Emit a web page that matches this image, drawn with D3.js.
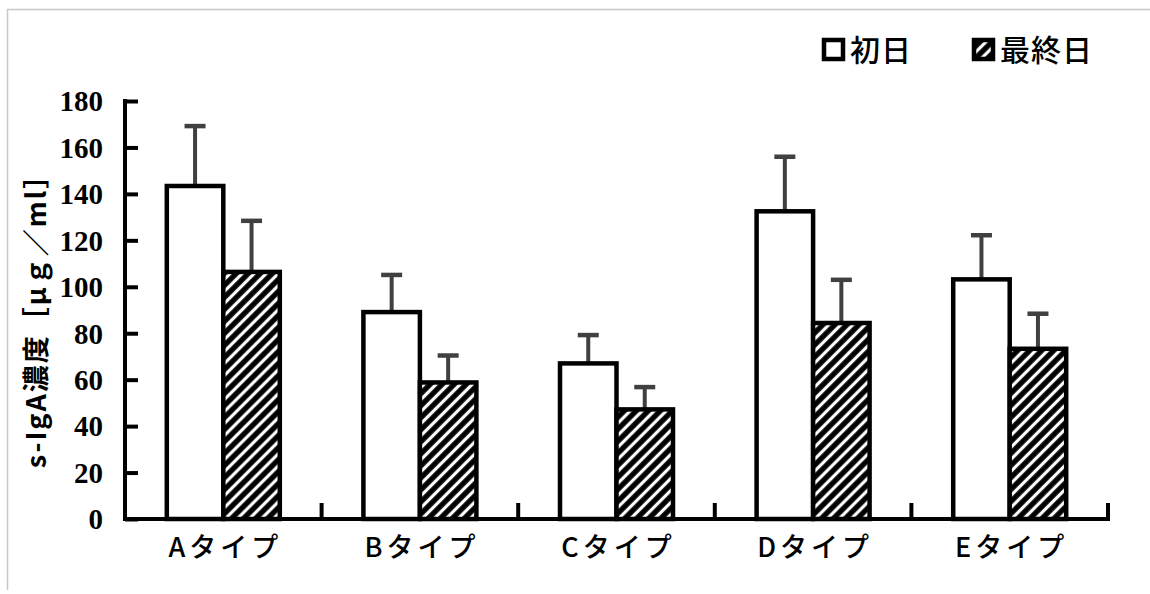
<!DOCTYPE html>
<html>
<head>
<meta charset="utf-8">
<script src="https://cdn.jsdelivr.net/npm/d3@7"></script>
<style>
  html, body { margin: 0; padding: 0; background: #fff; }
  svg { display: block; }
</style>
</head>
<body>
<svg id="chart" width="1150" height="594"></svg>
<script>
// s-IgA concentration by type, first day vs. last day (mean + SD)
const categories = ["Aタイプ", "Bタイプ", "Cタイプ", "Dタイプ", "Eタイプ"];
const seriesNames = ["初日", "最終日"];
const firstDay = [143.4, 89.1, 67.0, 132.5, 103.2];
const lastDay = [106.4, 58.8, 47.2, 84.4, 73.3];
const firstDaySD = [25.8, 16.0, 12.2, 23.5, 19.0];
const lastDaySD = [22.0, 11.6, 9.6, 18.6, 15.1];
const yTicks = [0, 20, 40, 60, 80, 100, 120, 140, 160, 180];
const yLabel = "s-IgA濃度［μｇ／ml］";

const svg = d3.select("#chart");
const numFont = "'Liberation Serif', 'DejaVu Serif', serif";
const jpFont = "'Noto Sans CJK JP', sans-serif";

// chart area border (top and left edges visible)
svg.append("path")
  .attr("d", "M7.5,590 L7.5,9.5 L1150,9.5")
  .attr("fill", "none")
  .attr("stroke", "#c8c8c8")
  .attr("stroke-width", 1.5);

// hatch pattern: black with white diagonal stripes
const defs = svg.append("defs");
const pat = defs.append("pattern")
  .attr("id", "hatch")
  .attr("patternUnits", "userSpaceOnUse")
  .attr("width", 8.5)
  .attr("height", 8.5)
  .attr("patternTransform", "rotate(45)");
pat.append("rect").attr("width", 8.5).attr("height", 8.5).attr("fill", "#000");
pat.append("line")
  .attr("x1", 4.25).attr("y1", 0).attr("x2", 4.25).attr("y2", 8.5)
  .attr("stroke", "#fff").attr("stroke-width", 3.2);

const plot = { left: 125, right: 1108, top: 101, bottom: 519 };

const x = d3.scaleBand()
  .domain(categories)
  .range([plot.left, plot.right])
  .paddingInner(0).paddingOuter(0);

const xSeries = d3.scaleBand()
  .domain(seriesNames)
  .range([0, x.bandwidth()])
  .paddingInner(0).paddingOuter(0.74);

const y = d3.scaleLinear().domain([0, 180]).range([plot.bottom, plot.top]);

const data = categories.map((c, i) => ({
  cat: c,
  vals: [
    { s: seriesNames[0], v: firstDay[i], sd: firstDaySD[i] },
    { s: seriesNames[1], v: lastDay[i], sd: lastDaySD[i] }
  ]
}));

// error bars (upper only), drawn beneath bars
const eb = svg.append("g");
data.forEach(d => {
  d.vals.forEach(p => {
    const cx = x(d.cat) + xSeries(p.s) + xSeries.bandwidth() / 2;
    eb.append("line")
      .attr("x1", cx).attr("x2", cx)
      .attr("y1", y(p.v)).attr("y2", y(p.v + p.sd))
      .attr("stroke", "#404040").attr("stroke-width", 4);
    eb.append("line")
      .attr("x1", cx - 10.5).attr("x2", cx + 10.5)
      .attr("y1", y(p.v + p.sd)).attr("y2", y(p.v + p.sd))
      .attr("stroke", "#404040").attr("stroke-width", 4.5);
  });
});

// bars
const groups = svg.append("g").selectAll("g")
  .data(data).join("g")
  .attr("transform", d => `translate(${x(d.cat)},0)`);

groups.selectAll("rect")
  .data(d => d.vals).join("rect")
  .attr("x", p => xSeries(p.s))
  .attr("y", p => y(p.v))
  .attr("width", xSeries.bandwidth())
  .attr("height", p => y(0) - y(p.v))
  .attr("fill", p => p.s === seriesNames[0] ? "#fff" : "url(#hatch)")
  .attr("stroke", "#000")
  .attr("stroke-width", 4.5);

// y axis
const yAxis = d3.axisLeft(y).tickValues(yTicks).tickSize(-13).tickPadding(22);
const gy = svg.append("g")
  .attr("transform", `translate(${plot.left},0)`)
  .call(yAxis);
gy.select(".domain").attr("stroke", "#000").attr("stroke-width", 4)
  .attr("d", `M0,${plot.bottom + 2}V${plot.top - 2}`);
gy.selectAll(".tick line").attr("stroke", "#000").attr("stroke-width", 4);
gy.selectAll(".tick text")
  .attr("font-family", numFont)
  .attr("font-weight", "bold")
  .attr("font-size", 29)
  .attr("fill", "#000")
  .attr("dy", "0.34em")
  .attr("x", -22);

// x axis
const xAxis = d3.axisBottom(x).tickSize(0).tickPadding(19);
const gx = svg.append("g")
  .attr("transform", `translate(0,${plot.bottom})`)
  .call(xAxis);
gx.select(".domain").attr("stroke", "#000").attr("stroke-width", 4)
  .attr("d", `M${plot.left - 2},0H${plot.right + 2}`);
gx.selectAll(".tick text")
  .attr("font-family", jpFont)
  .attr("font-weight", 500)
  .attr("font-size", 27)
  .attr("letter-spacing", "4px")
  .attr("fill", "#000")
  .attr("dx", 2)
  .attr("dy", "0.71em");

// category boundary ticks pointing up
gx.append("g").selectAll("line")
  .data(categories)
  .join("line")
  .attr("x1", c => x(c) + x.bandwidth())
  .attr("x2", c => x(c) + x.bandwidth())
  .attr("y1", 0).attr("y2", -16)
  .attr("stroke", "#000").attr("stroke-width", 4);

// y axis title
svg.append("text")
  .attr("transform", `translate(46,${(plot.top + plot.bottom) / 2 + 4}) rotate(-90)`)
  .attr("text-anchor", "middle")
  .attr("font-family", jpFont)
  .attr("font-weight", "bold")
  .attr("font-size", 27)
  .attr("letter-spacing", "2px")
  .attr("fill", "#000")
  .text(yLabel);

// legend
const legend = svg.append("g");
const legendItems = [
  { name: seriesNames[0], fill: "#fff", x: 822 },
  { name: seriesNames[1], fill: "url(#hatch)", x: 972 }
];
legendItems.forEach(it => {
  legend.append("rect")
    .attr("x", it.x + 2).attr("y", 40)
    .attr("width", 19).attr("height", 19)
    .attr("fill", it.fill)
    .attr("stroke", "#000").attr("stroke-width", 4.5);
  legend.append("text")
    .attr("x", it.x + 28).attr("y", 50)
    .attr("dy", "0.36em")
    .attr("font-family", jpFont)
    .attr("font-weight", 500)
    .attr("font-size", 30)
    .attr("letter-spacing", "1px")
    .attr("fill", "#000")
    .text(it.name);
});
</script>
</body>
</html>
